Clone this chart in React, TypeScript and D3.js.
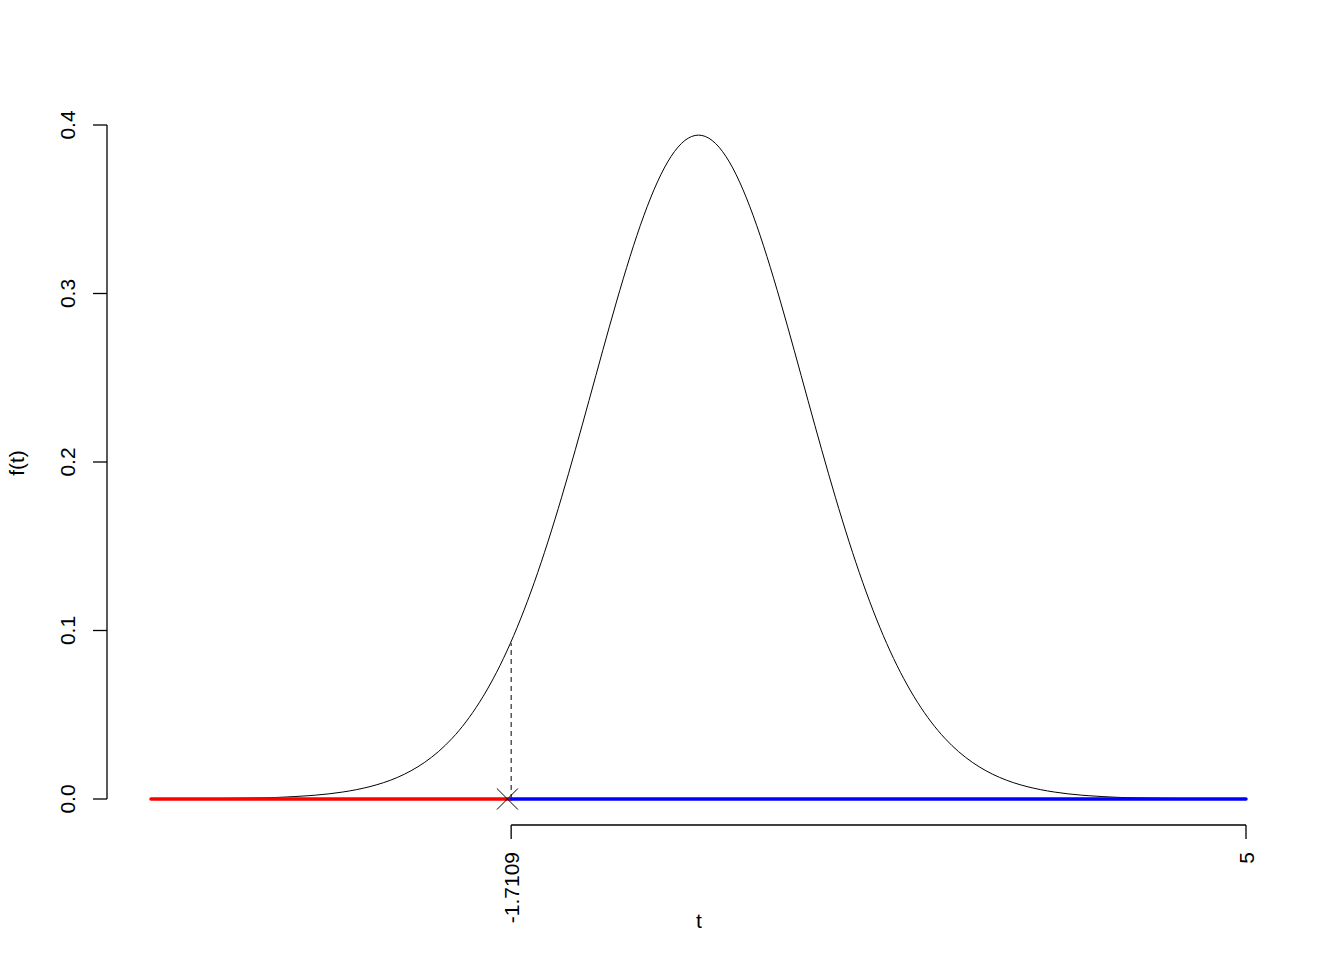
import React from "react";
import * as d3 from "d3";

// density values, t from -5 to 5
const tValues = [-5, -4.5, -4, -3.75, -3.5, -3.25, -3, -2.75, -2.5, -2.25, -2, -1.75, -1.5, -1.25, -1, -0.75, -0.5, -0.25, 0,
  0.25, 0.5, 0.75, 1, 1.25, 1.5, 1.75, 2, 2.25, 2.5, 2.75, 3, 3.25, 3.5, 3.75, 4, 4.5, 5];
const densityValues = [0.00005, 0.00019, 0.00066, 0.00124, 0.00227, 0.00413, 0.00736, 0.0128, 0.0218, 0.036, 0.0574, 0.0878, 0.1285, 0.1791, 0.2365, 0.2949, 0.3461, 0.3814, 0.394,
  0.3814, 0.3461, 0.2949, 0.2365, 0.1791, 0.1285, 0.0878, 0.0574, 0.036, 0.0218, 0.0128, 0.00736, 0.00413, 0.00227, 0.00124, 0.00066, 0.00019, 0.00005];

const xDomain = [-5, 5];
const yTicks = [0, 0.1, 0.2, 0.3, 0.4];
const yTickLabels = ["0.0", "0.1", "0.2", "0.3", "0.4"];
const xTicks = [-1.7109, 5];
const xTickLabels = ["-1.7109", "5"];
const critical = -1.7109;
const criticalDensity = 0.0925;
const markerT = -1.745;
const redSegment = [-5, -1.7109];
const blueSegment = [-1.7109, 5];

export default function App() {
  const W = 1344, H = 960;
  const x = d3.scaleLinear().domain(xDomain).range([151, 1246]);
  const y = d3.scaleLinear().domain([0, 0.4]).range([799, 125]);
  const pts = tValues.map((t, i) => [t, densityValues[i]] as [number, number]);
  const line = d3.line<[number, number]>().x(d => x(d[0])).y(d => y(d[1])).curve(d3.curveNatural);
  const font = "'Liberation Sans', Arial, sans-serif";
  const fs = 21;
  const axisY = 825;
  const axisX = 107;
  const mx = x(markerT), my = y(0), ms = 10.5;
  return (
    <svg width={W} height={H} style={{ position: "absolute", left: 0, top: 0, background: "#fff" }} fontFamily={font}>
      <rect width={W} height={H} fill="#fff" />
      {/* y axis */}
      <line x1={axisX} x2={axisX} y1={y(0)} y2={y(0.4)} stroke="#000" strokeWidth={1.3} />
      {yTicks.map((v, i) => (
        <g key={i}>
          <line x1={axisX - 14} x2={axisX} y1={y(v)} y2={y(v)} stroke="#000" strokeWidth={1.3} />
          <text transform={`translate(67,${y(v)}) rotate(-90)`} textAnchor="middle" dominantBaseline="central" fontSize={fs}>{yTickLabels[i]}</text>
        </g>
      ))}
      <text transform={`translate(16,463) rotate(-90)`} textAnchor="middle" dominantBaseline="central" fontSize={fs}>f(t)</text>
      {/* x axis */}
      <line x1={x(xTicks[0])} x2={x(xTicks[1])} y1={axisY} y2={axisY} stroke="#000" strokeWidth={1.3} />
      {xTicks.map((v, i) => (
        <g key={i}>
          <line x1={x(v)} x2={x(v)} y1={axisY} y2={axisY + 14} stroke="#000" strokeWidth={1.3} />
          <text transform={`translate(${x(v)},852) rotate(-90)`} textAnchor="end" dominantBaseline="central" fontSize={fs}>{xTickLabels[i]}</text>
        </g>
      ))}
      <text x={699} y={920} textAnchor="middle" dominantBaseline="central" fontSize={fs}>t</text>
      {/* density curve */}
      <path d={line(pts) || ""} fill="none" stroke="#000" strokeWidth={1} />
      {/* dashed critical line */}
      <line x1={x(critical)} x2={x(critical)} y1={y(0)} y2={y(criticalDensity)} stroke="#000" strokeWidth={1} strokeDasharray="5,4" />
      {/* regions */}
      <line x1={x(redSegment[0])} x2={x(redSegment[1])} y1={y(0)} y2={y(0)} stroke="#ff0000" strokeWidth={3.5} strokeLinecap="round" />
      <line x1={x(blueSegment[0])} x2={x(blueSegment[1])} y1={y(0)} y2={y(0)} stroke="#0000ff" strokeWidth={3.5} strokeLinecap="round" />
      {/* marker */}
      <line x1={mx - ms} x2={mx + ms} y1={my - ms} y2={my + ms} stroke="#000" strokeWidth={1} />
      <line x1={mx - ms} x2={mx + ms} y1={my + ms} y2={my - ms} stroke="#000" strokeWidth={1} />
    </svg>
  );
}
